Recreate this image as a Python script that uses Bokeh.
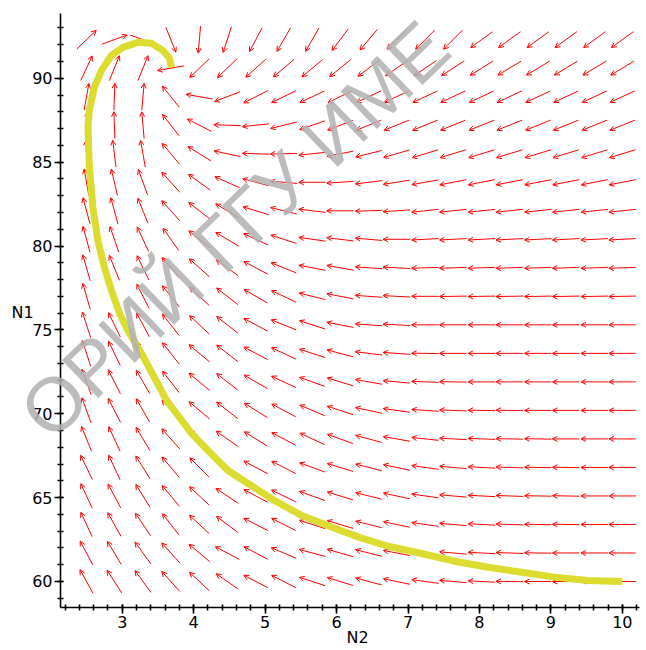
import math
from bokeh.plotting import figure
from bokeh.models import (Range1d, FixedTicker, Arrow, OpenHead, ColumnDataSource, Label)
from bokeh.embed import file_html
from bokeh.resources import INLINE

# ---- data ----
# grid of the direction field (N2 = x, N1 = y)
COL_N2 = [2.50, 2.89, 3.29, 3.68, 4.08, 4.47, 4.87, 5.26, 5.66, 6.05,
          6.45, 6.84, 7.24, 7.63, 8.03, 8.42, 8.82, 9.21, 9.61, 10.00]
ROW_N1 = [92.3, 90.6, 88.9, 87.2, 85.5, 83.8, 82.1, 80.4, 78.7, 77.0,
          75.3, 73.6, 71.9, 70.2, 68.5, 66.8, 65.1, 63.4, 61.7, 60.0]
# on-screen arrow direction (degrees, counter-clockwise from +x), rows top -> bottom
ANGLES = [
    [44, 20, 340, 292, 265, 252, 242, 240, 240, 233, 230, 225, 225, 225, 216, 216, 216, 216, 216, 216],
    [65, 68, 68, 190, 224, 224, 222, 220, 220, 219, 217, 215, 214, 213, 212, 211, 211, 211, 211, 211],
    [80, 88, 85, 129, 170, 201, 207, 206, 205, 206, 205, 205, 205, 205, 205, 205, 205, 205, 205, 205],
    [85, 92, 95, 128, 153, 178, 186, 194, 199, 201, 202, 202, 202, 202, 202, 202, 202, 202, 202, 202],
    [92, 97, 100, 130, 148, 168, 178, 181, 186, 191, 194, 196, 197, 197, 197, 197, 197, 197, 197, 197],
    [100, 103, 110, 132, 144, 156, 165, 175, 180, 184, 187, 189, 190, 191, 191, 191, 191, 191, 191, 191],
    [105, 105, 112, 132, 142, 149, 163, 166, 173, 180, 182, 184, 186, 186, 186, 186, 186, 186, 186, 186],
    [105, 109, 115, 125, 141, 149, 155, 162, 172, 173, 175, 180, 183, 183, 183, 183, 183, 183, 183, 183],
    [106, 112, 116, 130, 138, 144, 152, 158, 169, 170, 176, 177, 182, 182, 182, 182, 182, 182, 182, 182],
    [106, 115, 117, 129, 137, 142, 150, 155, 166, 169, 176, 177, 180, 181, 181, 181, 181, 181, 181, 181],
    [108, 116, 118, 128, 137, 142, 152, 158, 162, 169, 176, 177, 180, 180, 180, 180, 180, 180, 180, 180],
    [108, 116, 119, 128, 140, 142, 152, 155, 162, 165, 173, 176, 179, 180, 180, 180, 180, 180, 180, 180],
    [110, 117, 120, 128, 140, 142, 150, 155, 160, 163, 170, 175, 178, 179, 180, 180, 180, 180, 180, 180],
    [110, 117, 120, 130, 140, 142, 148, 152, 157, 162, 168, 172, 176, 178, 179, 179, 180, 180, 180, 180],
    [112, 115, 121, 132, 138, 145, 148, 152, 155, 160, 165, 170, 174, 177, 178, 179, 179, 180, 180, 180],
    [116, 115, 122, 130, 135, 148, 152, 153, 160, 163, 166, 168, 172, 175, 177, 178, 179, 179, 180, 180],
    [115, 118, 122, 130, 137, 146, 152, 154, 160, 163, 166, 168, 172, 175, 177, 178, 179, 179, 180, 180],
    [115, 119, 124, 128, 137, 143, 153, 153, 162, 163, 166, 168, 172, 175, 177, 178, 179, 179, 180, 180],
    [118, 121, 126, 132, 140, 152, 152, 157, 165, 164, 166, 169, 172, 175, 177, 178, 179, 180, 180, 180],
    [119, 123, 126, 132, 137, 145, 153, 153, 162, 163, 165, 168, 172, 175, 177, 179, 180, 180, 180, 180],
]
# solution curve
TRAJ_N2 = [10.0, 9.52, 9.05, 8.59, 8.12, 7.65, 7.19, 6.72, 6.34, 6.02, 5.51, 5.13,
           4.76, 4.48, 4.20, 3.97, 3.62, 3.27, 3.10, 2.96, 2.85, 2.75, 2.66, 2.59, 2.54, 2.52,
           2.54, 2.61, 2.71, 2.85, 3.01, 3.22, 3.41, 3.57, 3.66, 3.69]
TRAJ_N1 = [60.0, 60.06, 60.26, 60.55, 60.85, 61.21, 61.67, 62.10, 62.60, 63.10, 63.94, 64.83,
           65.84, 66.62, 67.81, 68.83, 70.80, 73.60, 74.80, 76.00, 77.35, 78.72, 80.30, 82.30, 84.70, 87.10,
           88.09, 89.46, 90.47, 91.37, 91.84, 92.14, 92.08, 91.66, 91.19, 90.65]
X_TICKS = [3, 4, 5, 6, 7, 8, 9, 10]
Y_TICKS = [60, 65, 70, 75, 80, 85, 90]
X_LABEL = "N2"
Y_LABEL = "N1"
WATERMARK = "ОРИЙ ГГУ ИМЕ"

# ---- layout ----
W, H = 646, 650
BL, BR, BT, BB = 60, 7, 13, 43          # where the axes box sits inside the canvas
AX0, AX1 = 2.136, 10.24                  # extent of the drawn N2 axis
AY0, AY1 = 58.45, 93.86                  # extent of the drawn N1 axis
SX = (W - BL - BR) / (AX1 - AX0)
SY = (H - BT - BB) / (AY1 - AY0)
X0, X1 = AX0 - BL / SX, AX1 + BR / SX
Y0, Y1 = AY0 - BB / SY, AY1 + BT / SY

p = figure(width=W, height=H, output_backend="svg", toolbar_location=None, title=None,
           x_range=Range1d(X0, X1), y_range=Range1d(Y0, Y1), min_border=0)
p.outline_line_color = None
p.grid.visible = False
p.background_fill_color = "white"
p.border_fill_color = "white"

minor_x = [round(2.2 + 0.2 * k, 2) for k in range(41)]
minor_y = list(range(59, 94))
p.xaxis.ticker = FixedTicker(ticks=X_TICKS, minor_ticks=minor_x)
p.yaxis.ticker = FixedTicker(ticks=Y_TICKS, minor_ticks=minor_y)
p.xaxis.fixed_location = AY0
p.yaxis.fixed_location = AX0
p.xaxis.bounds = (AX0, AX1)
p.yaxis.bounds = (AY0, AY1)
for ax in (p.xaxis[0], p.yaxis[0]):
    ax.axis_line_width = 1.6
    ax.axis_line_color = "black"
    ax.major_tick_line_width = 1.6
    ax.minor_tick_line_width = 1.6
    ax.major_tick_in = 3
    ax.major_tick_out = 6
    ax.minor_tick_in = 3
    ax.minor_tick_out = 3
    ax.major_label_text_font = "DejaVu Sans"
    ax.major_label_text_font_size = "16px"
    ax.major_label_text_color = "black"
    ax.major_label_standoff = 2

# direction field
x0s, y0s, x1s, y1s = [], [], [], []
L = 27.0
for j, row in enumerate(ANGLES):
    yc = ROW_N1[j]
    for i, a in enumerate(row):
        xc = COL_N2[i]
        r = math.radians(a)
        dx = 0.5 * L * math.cos(r) / SX
        dy = 0.5 * L * math.sin(r) / SY
        x0s.append(xc - dx); y0s.append(yc - dy)
        x1s.append(xc + dx); y1s.append(yc + dy)
src = ColumnDataSource(dict(x0=x0s, y0=y0s, x1=x1s, y1=y1s))
p.add_layout(Arrow(end=OpenHead(size=5, line_color="#ff0000", line_width=1),
                   x_start="x0", y_start="y0", x_end="x1", y_end="y1",
                   line_color="#ff0000", line_width=1, source=src, level="underlay"))

# solution curve
p.line(TRAJ_N2, TRAJ_N1, line_color="#dcdc30", line_width=7, line_join="round")

# axis titles
p.add_layout(Label(x=AX0 + (357 - BL) / SX, y=AY0 - (637 - (H - BB)) / SY, text=X_LABEL,
                   text_align="center", text_baseline="middle",
                   text_font="DejaVu Sans", text_font_size="16px", text_color="black"))
p.add_layout(Label(x=AX0 + (22 - BL) / SX, y=AY1 - (312 - BT) / SY, text=Y_LABEL,
                   text_align="center", text_baseline="middle",
                   text_font="DejaVu Sans", text_font_size="16px", text_color="black"))

# watermark (kept inside the canvas)
wx = AX0 + (234 - BL) / SX
wy = AY1 - (229 - BT) / SY
p.add_layout(Label(x=wx, y=wy, text=WATERMARK, text_align="center", text_baseline="middle",
                   angle=44, angle_units="deg", text_font="Liberation Sans",
                   text_font_size="76px", text_color="#b0b0b0", text_alpha=0.85, level="overlay"))

open("out.html", "w").write(file_html(p, INLINE))
